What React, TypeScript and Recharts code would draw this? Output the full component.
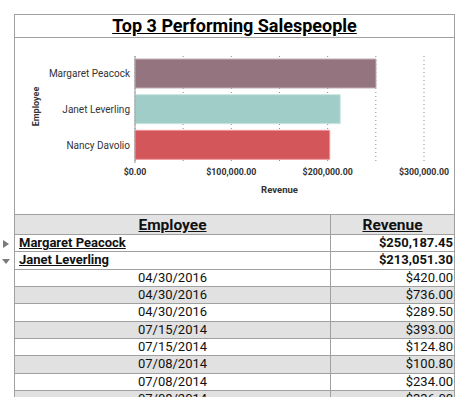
import React from "react";
import { BarChart, Bar, XAxis, YAxis, CartesianGrid, Cell } from "recharts";

// chart data
const employees = ["Margaret Peacock", "Janet Leverling", "Nancy Davolio"];
const revenues = [250187.45, 213051.3, 202143.71];
const barFills = ["#94747f", "#a1cdc9", "#d3565b"];
const barStrokes = ["#c3b0b7", "#cbe4e1", "#f09598"];
const gridTicks = [0, 50000, 100000, 150000, 200000, 250000, 300000];

// table detail rows (Janet Leverling expanded)
const detailDates = [
  "04/30/2016", "04/30/2016", "04/30/2016", "07/15/2014",
  "07/15/2014", "07/08/2014", "07/08/2014", "07/08/2014",
];
const detailAmounts = [420, 736, 289.5, 393, 124.8, 100.8, 234, 336];

const FONT = "Roboto, 'DejaVu Sans', sans-serif";
const BORDER = "#a0a0a0";

const money = (v: number) =>
  "$" + v.toLocaleString("en-US", { minimumFractionDigits: 2, maximumFractionDigits: 2 });

const chartData = employees.map((name, i) => ({ name, revenue: revenues[i] }));

const ROW_H = 17.35;

function Triangle({ down }: { down?: boolean }) {
  return (
    <svg width={8} height={8} style={{ position: "absolute", left: 1, top: (ROW_H - 8) / 2 }}>
      {down ? <polygon points="0,2 8,2 4,7" fill="#7a7a7a" /> : <polygon points="1,0 7,4 1,8" fill="#7a7a7a" />}
    </svg>
  );
}

function Row({
  left,
  right,
  bold,
  bg,
  marker,
}: {
  left: string;
  right: string;
  bold?: boolean;
  bg: string;
  marker?: "right" | "down";
}) {
  return (
    <div style={{ position: "relative", height: ROW_H }}>
      {marker && (
        <div style={{ position: "absolute", left: -14, top: 0, width: 14, height: ROW_H }}>
          <Triangle down={marker === "down"} />
        </div>
      )}
      <div
        style={{
          display: "flex",
          height: ROW_H,
          boxSizing: "border-box",
          borderBottom: `1px solid ${BORDER}`,
          background: bg,
          fontSize: 13,
          lineHeight: `${ROW_H - 1}px`,
          color: "#111",
        }}
      >
        <div
          style={{
            width: 316,
            boxSizing: "border-box",
            borderRight: `1px solid ${BORDER}`,
            paddingLeft: bold ? 4 : 0,
            textAlign: bold ? "left" : "center",
            fontWeight: bold ? 700 : 400,
            textDecoration: bold ? "underline" : "none",
            whiteSpace: "nowrap",
          }}
        >
          {left}
        </div>
        <div
          style={{
            flex: 1,
            textAlign: "right",
            paddingRight: 1,
            fontWeight: bold ? 700 : 400,
          }}
        >
          {right}
        </div>
      </div>
    </div>
  );
}

export default function App() {
  return (
    <div
      style={{
        position: "absolute",
        left: 0,
        top: 0,
        width: 461,
        height: 397,
        overflow: "hidden",
        background: "#fff",
        fontFamily: FONT,
      }}
    >
      <div
        style={{
          position: "absolute",
          left: 14,
          top: 14,
          width: 441,
          height: 420,
          boxSizing: "border-box",
          border: `1px solid ${BORDER}`,
        }}
      >
        {/* title */}
        <div
          style={{
            height: 23,
            boxSizing: "border-box",
            borderBottom: `1px solid ${BORDER}`,
            textAlign: "center",
            fontSize: 18,
            fontWeight: 700,
            lineHeight: "22px",
            textDecoration: "underline",
            color: "#000",
          }}
        >
          Top 3 Performing Salespeople
        </div>

        {/* chart */}
        <div style={{ height: 176, marginLeft: -1 }}>
          <BarChart
            width={440}
            height={176}
            layout="vertical"
            data={chartData}
            margin={{ top: 18, right: 30, bottom: 0, left: 0 }}
            barSize={29}
          >
            <CartesianGrid horizontal={false} stroke="#8c8c8c" strokeDasharray="1 3" />
            <XAxis
              type="number"
              domain={[0, 300000]}
              ticks={gridTicks}
              interval={0}
              height={51}
              axisLine={false}
              tickLine={false}
              tickSize={0}
              tickMargin={6}
              tickFormatter={(v: number) => (v % 100000 === 0 ? money(v) : "")}
              tick={{ fill: "#333", fontSize: 8.8, fontWeight: 700, fontFamily: FONT }}
              label={{
                content: ({ viewBox }: any) => (
                  <text
                    x={viewBox.x + viewBox.width / 2}
                    y={viewBox.y + 30}
                    textAnchor="middle"
                    fontSize={9.5}
                    fontWeight={700}
                    fill="#333"
                    fontFamily={FONT}
                  >
                    Revenue
                  </text>
                ),
              }}
            />
            <YAxis
              type="category"
              dataKey="name"
              width={121}
              axisLine={{ stroke: "#999" }}
              tickLine={false}
              tickSize={0}
              tickMargin={5}
              tick={{ fill: "#333", fontSize: 10, fontFamily: FONT }}
              label={{
                content: ({ viewBox }: any) => {
                  const x = viewBox.x + 24.5;
                  const y = viewBox.y + viewBox.height / 2 - 3;
                  return (
                    <text
                      x={x}
                      y={y}
                      transform={`rotate(-90 ${x} ${y})`}
                      textAnchor="middle"
                      fontSize={9}
                      fontWeight={700}
                      fill="#333"
                      fontFamily={FONT}
                    >
                      Employee
                    </text>
                  );
                },
              }}
            />
            <Bar dataKey="revenue" isAnimationActive={false} strokeWidth={1}>
              {chartData.map((d, i) => (
                <Cell key={d.name} fill={barFills[i]} stroke={barStrokes[i]} />
              ))}
            </Bar>
          </BarChart>
        </div>

        {/* table */}
        <div style={{ borderTop: `1px solid ${BORDER}` }}>
          <div
            style={{
              display: "flex",
              height: 20,
              boxSizing: "border-box",
              borderBottom: `1px solid ${BORDER}`,
              background: "#e3e3e3",
              fontSize: 15.5,
              fontWeight: 700,
              lineHeight: "20px",
              textDecoration: "underline",
              color: "#111",
            }}
          >
            <div style={{ width: 316, boxSizing: "border-box", borderRight: `1px solid ${BORDER}`, textAlign: "center" }}>
              Employee
            </div>
            <div style={{ flex: 1, textAlign: "center" }}>Revenue</div>
          </div>
          <Row left={employees[0]} right={money(revenues[0])} bold bg="#fff" marker="right" />
          <Row left={employees[1]} right={money(revenues[1])} bold bg="#fff" marker="down" />
          {detailDates.map((d, i) => (
            <Row key={i} left={d} right={money(detailAmounts[i])} bg={i % 2 === 1 ? "#e1e1e1" : "#fff"} />
          ))}
        </div>
      </div>
    </div>
  );
}
